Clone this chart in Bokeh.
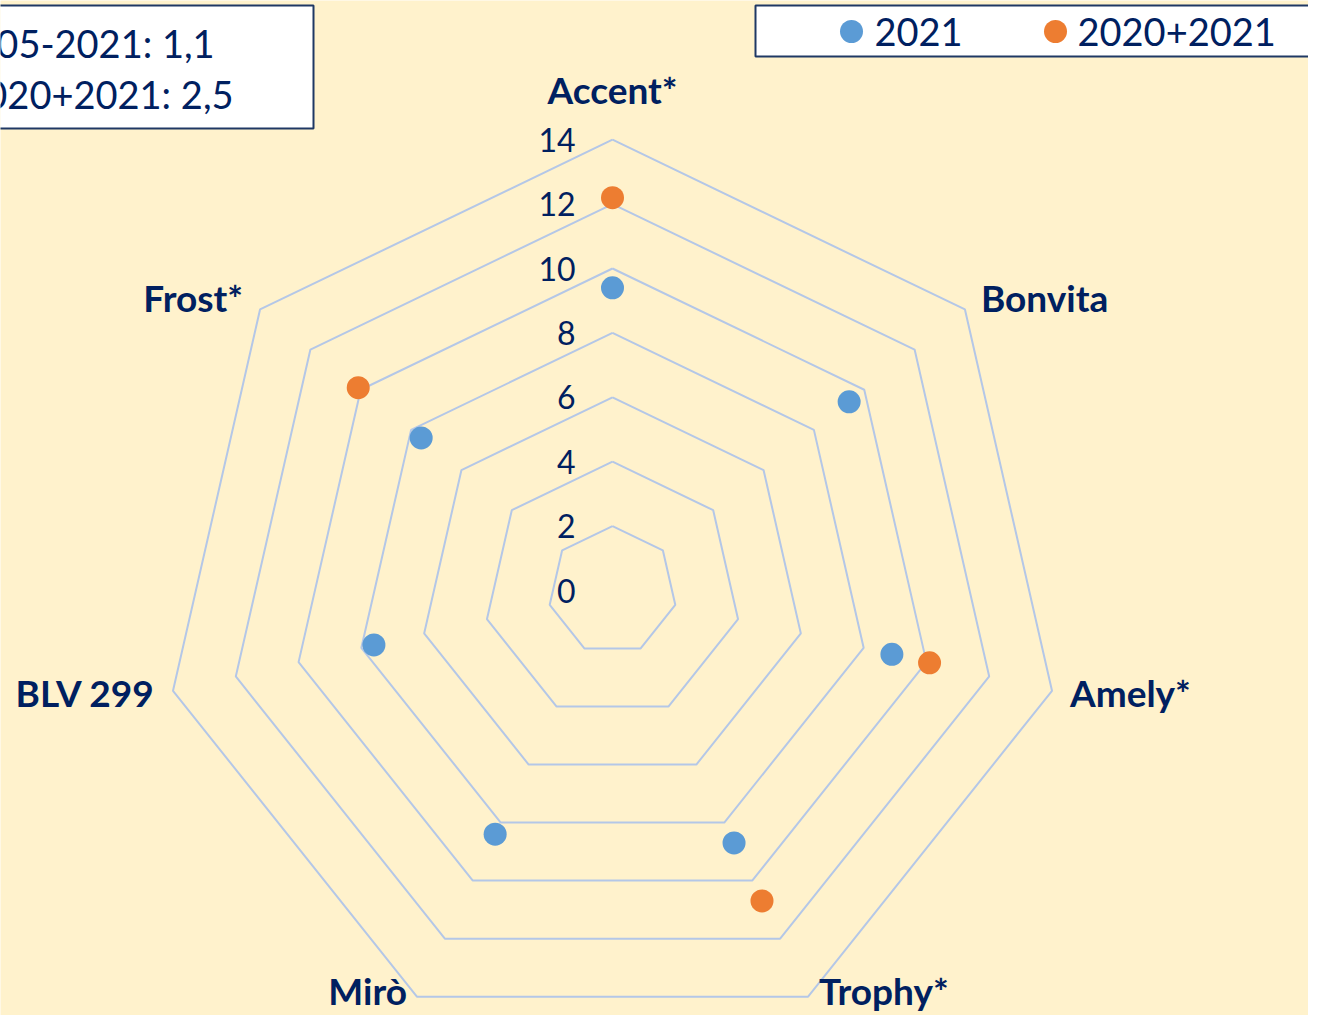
import math
from bokeh.plotting import figure
from bokeh.models import Range1d, ColumnDataSource
from bokeh.core.properties import value
from bokeh.embed import file_html
from bokeh.resources import INLINE

# ---- data ----
categories = ["Accent*", "Bonvita", "Amely*", "Trophy*", "Mirò", "BLV 299", "Frost*"]
series_2021 = [9.4, 9.4, 8.9, 8.7, 8.4, 7.6, 7.6]
series_2020_2021 = [12.2, None, 10.1, 10.7, None, None, 10.1]
ring_levels = [2, 4, 6, 8, 10, 12, 14]
tick_labels = ["0", "2", "4", "6", "8", "10", "12", "14"]
tick_values = [0, 2, 4, 6, 8, 10, 12, 14]
legend_names = ["2021", "2020+2021"]
info_lines = ["LSD 2005-2021: 1,1", "LSD 2020+2021: 2,5"]

# ---- style ----
BG = "#FFF2CC"
NAVY = "#002060"
BOX = "#1F3864"
GRID = "#B4C7E7"
BLUE = "#5B9BD5"
ORANGE = "#ED7D31"
FONT = "Lato"

W, H = 1308, 1015
S = 32.2          # pixels per unit
CX, CY = 612, 590  # centre in picture pixels


def px(x):
    return (x - CX) / S


def py(y):
    return (CY - y) / S


p = figure(width=W, height=H, output_backend="svg", toolbar_location=None,
           x_range=Range1d(px(0), px(W)), y_range=Range1d(py(H), py(0)),
           min_border=0, background_fill_color=BG, border_fill_color=BG)
p.axis.visible = False
p.grid.visible = False
p.outline_line_color = None

n = len(categories)
angles = [2 * math.pi * i / n for i in range(n)]

# rings
xs, ys = [], []
for lv in ring_levels:
    xs.append([lv * math.sin(a) for a in angles] + [0.0])
    ys.append([lv * math.cos(a) for a in angles] + [lv])
p.multi_line(xs, ys, line_color=GRID, line_width=2)

# tick labels
p.text(x=[0] * len(tick_values), y=tick_values, text=tick_labels,
       x_offset=-37, text_align="right", text_baseline="middle",
       text_font=value(FONT), text_font_size="32px", text_color=NAVY)

# category labels
lab_dx = [0, 16, 18, 11, -10, -18, -17]
lab_dy = [-50, -12, 2, -6, -6, 2, -12]
lab_align = ["center", "left", "left", "left", "right", "right", "right"]
lab_src = ColumnDataSource(dict(
    x=[14 * math.sin(a) for a in angles], y=[14 * math.cos(a) for a in angles],
    text=categories, dx=lab_dx, dy=lab_dy, align=lab_align))
p.text(x="x", y="y", text="text", x_offset="dx", y_offset="dy", text_align="align",
       text_baseline="middle", text_font=value(FONT), text_font_style="bold",
       text_font_size="37px", text_color=NAVY, source=lab_src)

# series points
bx = [v * math.sin(a) for v, a in zip(series_2021, angles)]
by = [v * math.cos(a) for v, a in zip(series_2021, angles)]
p.scatter(bx, by, size=23, fill_color=BLUE, line_color=None)

ox = [v * math.sin(a) for v, a in zip(series_2020_2021, angles) if v is not None]
oy = [v * math.cos(a) for v, a in zip(series_2020_2021, angles) if v is not None]
p.scatter(ox, oy, size=23, fill_color=ORANGE, line_color=None)

# info box (top-left)
p.quad(left=[px(-10)], right=[px(313)], top=[py(5)], bottom=[py(128)],
       fill_color="white", line_color=BOX, line_width=2)
p.text(x=[px(-127), px(-116)], y=[py(42), py(93)], text=info_lines,
       text_align="left", text_baseline="middle", text_font=value(FONT),
       text_font_size="38px", text_color=NAVY)

# legend box (top-right)
p.quad(left=[px(755)], right=[px(1340)], top=[py(5)], bottom=[py(56)],
       fill_color="white", line_color=BOX, line_width=2)
p.scatter([px(851)], [py(31)], size=23, fill_color=BLUE, line_color=None)
p.scatter([px(1055)], [py(31)], size=23, fill_color=ORANGE, line_color=None)
p.text(x=[px(874), px(1077)], y=[py(31), py(31)], text=legend_names,
       text_align="left", text_baseline="middle", text_font=value(FONT),
       text_font_size="38px", text_color=NAVY)

open("out.html", "w").write(file_html(p, INLINE))
